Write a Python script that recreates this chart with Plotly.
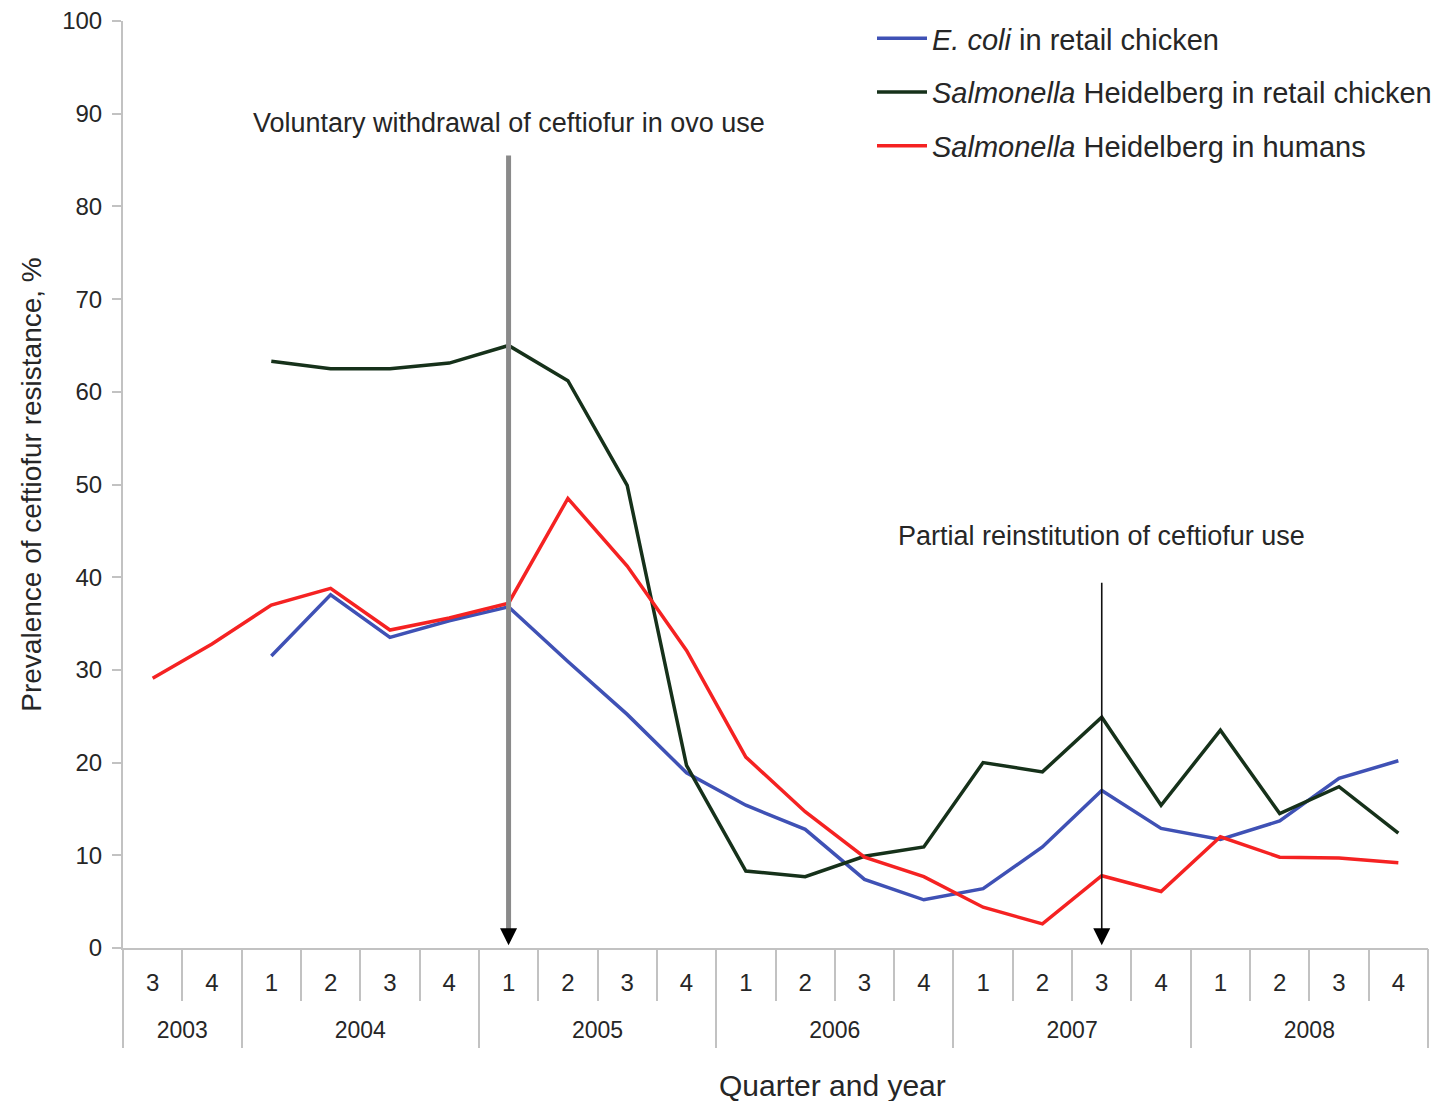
import plotly.graph_objects as go

years = ["2003", "2003",
         "2004", "2004", "2004", "2004",
         "2005", "2005", "2005", "2005",
         "2006", "2006", "2006", "2006",
         "2007", "2007", "2007", "2007",
         "2008", "2008", "2008", "2008"]
quarters = ["3", "4",
            "1", "2", "3", "4",
            "1", "2", "3", "4",
            "1", "2", "3", "4",
            "1", "2", "3", "4",
            "1", "2", "3", "4"]

ecoli_chicken = [None, None, 31.5, 38.1, 33.5, 35.3, 36.8, 30.9, 25.2, 18.9,
                 15.4, 12.8, 7.4, 5.2, 6.4, 10.9, 17.0, 12.9, 11.7, 13.7, 18.3, 20.2]
salm_chicken = [None, None, 63.3, 62.5, 62.5, 63.1, 65.0, 61.2, 49.9, 19.7,
                8.3, 7.7, 9.9, 10.9, 20.0, 19.0, 24.9, 15.4, 23.5, 14.5, 17.4, 12.4]
salm_humans = [29.1, 32.8, 37.0, 38.8, 34.3, 35.6, 37.2, 48.5, 41.2, 32.1,
               20.6, 14.7, 9.8, 7.7, 4.4, 2.6, 7.8, 6.1, 12.0, 9.8, 9.7, 9.2]

series_names = ["<i>E. coli</i> in retail chicken",
                "<i>Salmonella</i> Heidelberg in retail chicken",
                "<i>Salmonella</i> Heidelberg in humans"]
series_colors = ["#3f51b5", "#16311a", "#f52222"]

withdrawal_idx = 6      # 2005 Q1
reinstitution_idx = 16  # 2007 Q3
withdrawal_top = 85.5
reinstitution_top = 39.4

# derived category geometry
idx = list(range(len(quarters)))
quarter_bounds = [i - 0.5 for i in idx] + [idx[-1] + 0.5]
year_names = []
year_first = {}
year_last = {}
for i, y in enumerate(years):
    if y not in year_first:
        year_first[y] = i
        year_names.append(y)
    year_last[y] = i
year_centers = [(year_first[y] + year_last[y]) / 2 for y in year_names]
year_bounds = [year_first[y] - 0.5 for y in year_names] + [idx[-1] + 0.5]

FONT = "Liberation Sans, Arial, sans-serif"
TXT = "#262626"
AXC = "#c2c2c2"
XR = [-0.5, idx[-1] + 0.5]

# page body has an 8px margin: figure is placed at (8, 8) in the window
PL, PT, PR, PB = 123, 21, 1428, 948     # plot area in window pixels
OFF = 8
W, H = 1443 - OFF, 1101 - OFF
PW, PH = PR - PL, PB - PT


def px_x(px):
    return (px - PL) / PW


def px_y(py):
    return (PB - py) / PH


fig = go.Figure()
for name, vals, col in zip(series_names,
                           [ecoli_chicken, salm_chicken, salm_humans],
                           series_colors):
    fig.add_trace(go.Scatter(
        x=idx, y=vals, mode="lines", name=name,
        line=dict(color=col, width=3.5), legendgroup=name,
    ))

# carrier traces so the overlaid category axes get drawn
for ax_id in ["x2", "x3", "x4"]:
    fig.add_trace(go.Scatter(x=idx, y=[None] * len(idx), xaxis=ax_id, yaxis="y",
                             mode="lines", showlegend=False, hoverinfo="skip"))

# arrow shafts
fig.add_shape(type="line", xref="x", yref="y",
              x0=withdrawal_idx, x1=withdrawal_idx, y0=withdrawal_top, y1=1.5,
              line=dict(color="#8a8a8a", width=5))
fig.add_shape(type="line", xref="x", yref="y",
              x0=reinstitution_idx, x1=reinstitution_idx, y0=reinstitution_top, y1=1.5,
              line=dict(color="#111111", width=1.6))

# arrow heads
for ai in [withdrawal_idx, reinstitution_idx]:
    fig.add_annotation(x=ai, y=0.3, xref="x", yref="y", ax=0, ay=-16,
                       showarrow=True, arrowhead=2, arrowsize=0.85, arrowwidth=4,
                       arrowcolor="#000000", text=" ", font=dict(size=1))

fig.add_annotation(x=withdrawal_idx, y=89.0, xref="x", yref="y",
                   text="Voluntary withdrawal of ceftiofur in ovo use",
                   showarrow=False, font=dict(size=27, color=TXT, family=FONT))
fig.add_annotation(x=reinstitution_idx, y=44.4, xref="x", yref="y",
                   text="Partial reinstitution of ceftiofur use",
                   showarrow=False, font=dict(size=27, color=TXT, family=FONT))
fig.add_annotation(x=px_x(832), y=px_y(1085), xref="paper", yref="paper",
                   xanchor="center", yanchor="middle",
                   text="Quarter and year", showarrow=False,
                   font=dict(size=30, color=TXT, family=FONT))

fig.update_layout(
    width=W, height=H,
    margin=dict(l=PL - OFF, r=1443 - PR, t=PT - OFF, b=1101 - PB, pad=0,
                autoexpand=False),
    plot_bgcolor="white", paper_bgcolor="white",
    font=dict(family=FONT, size=24, color=TXT),
    showlegend=True,
    legend=dict(x=px_x(872), y=px_y(13), xanchor="left", yanchor="top",
                font=dict(size=29, color=TXT, family=FONT),
                bgcolor="rgba(0,0,0,0)", tracegroupgap=13,
                itemwidth=50),
    xaxis=dict(
        range=XR, tickmode="array", tickvals=idx, ticktext=quarters,
        ticks="", showline=True, linecolor=AXC, linewidth=2,
        showgrid=False, zeroline=False, ticklabelstandoff=12,
        ticklabeloverflow="allow",
        tickfont=dict(size=24, color=TXT, family=FONT),
    ),
    xaxis2=dict(
        overlaying="x", anchor="y", side="bottom", range=XR,
        tickmode="array", tickvals=quarter_bounds, showticklabels=False,
        ticks="outside", ticklen=52, tickwidth=2, tickcolor=AXC,
        showline=False, showgrid=False, zeroline=False,
    ),
    xaxis3=dict(
        overlaying="x", anchor="y", side="bottom", range=XR,
        tickmode="array", tickvals=year_bounds, showticklabels=False,
        ticks="outside", ticklen=99, tickwidth=2, tickcolor=AXC,
        showline=False, showgrid=False, zeroline=False,
    ),
    xaxis4=dict(
        overlaying="x", anchor="y", side="bottom", range=XR,
        tickmode="array", tickvals=year_centers, ticktext=year_names,
        ticks="", ticklabelstandoff=66, ticklabeloverflow="allow",
        showline=False, showgrid=False, zeroline=False,
        tickfont=dict(size=23, color=TXT, family=FONT),
    ),
    yaxis=dict(
        range=[0, 100], dtick=10, tick0=0,
        showline=True, linecolor=AXC, linewidth=2,
        ticks="outside", ticklen=9, tickcolor=AXC, tickwidth=2,
        showgrid=False, zeroline=False, ticklabelstandoff=5,
        ticklabeloverflow="allow",
        tickfont=dict(size=24, color=TXT, family=FONT),
        title=dict(text="Prevalence of ceftiofur resistance, %",
                   font=dict(size=28, color=TXT, family=FONT), standoff=12),
    ),
)

fig.write_html("out.html")
